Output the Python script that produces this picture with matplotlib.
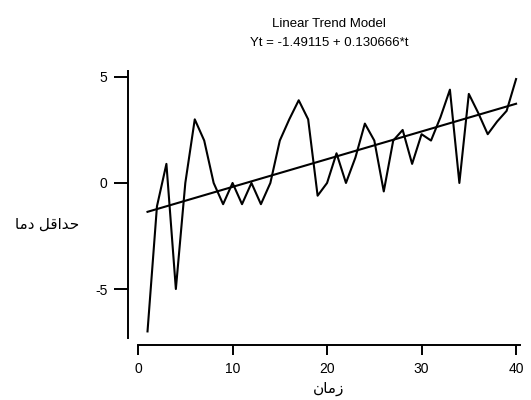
import numpy as np
import matplotlib
matplotlib.use('Agg')
import matplotlib.pyplot as plt

plt.rcParams['font.family'] = ['Liberation Sans', 'DejaVu Sans']
plt.rcParams['axes.unicode_minus'] = False

# observed minimum temperature values, t = 1..40
t = np.arange(1, 41)
temp = [-7, -1.1, 0.9, -5, 0, 3, 2, 0, -1, 0,
        -1, 0, -1, 0, 2, 3, 3.9, 3, -0.6, 0,
        1.4, 0, 1.2, 2.8, 2, -0.4, 2, 2.5, 0.9, 2.3,
        2, 3.1, 4.4, 0, 4.2, 3.3, 2.3, 2.9, 3.4, 4.9]
intercept = -1.49115
slope = 0.130666
trend = intercept + slope * t

title = 'Linear Trend Model\nYt = -1.49115 + 0.130666*t'
xlabel = '\ufee5\ufe8e\ufee3\ufeaf'                       # زمان (shaped, visual order)
ylabel = '\ufe8e\ufee3\ufea9 \ufede\ufed7\ufe8d\ufeaa\ufea3'  # حداقل دما

fig = plt.figure(figsize=(5.31, 4.0), dpi=100)
ax = fig.add_axes([0.26, 0.155, 0.719, 0.6675])

ax.plot(t, temp, color='black', lw=1.5)
ax.plot(t, trend, color='black', lw=1.5)

ax.set_xlim(0, 40.4)
ax.set_ylim(-7.31, 5.28)
ax.set_xticks([0, 10, 20, 30, 40])
ax.set_yticks([-5, 0, 5])

for s in ['top', 'right']:
    ax.spines[s].set_visible(False)
ax.spines['left'].set_position(('outward', 7))
ax.spines['bottom'].set_position(('outward', 5))
ax.spines['left'].set_linewidth(1.4)
ax.spines['bottom'].set_linewidth(1.4)

ax.tick_params(axis='x', length=7.2, width=1.4, pad=5, labelsize=10)
ax.tick_params(axis='y', length=10, width=1.4, pad=5, labelsize=10)

ax.set_title(title, fontsize=9.5, linespacing=1.75, pad=18)
ax.set_xlabel(xlabel, fontsize=11, labelpad=4)
ax.set_ylabel(ylabel, fontsize=11, rotation=0, ha='center', va='center')
ax.yaxis.set_label_coords(-0.238, 0.423)

fig.savefig('out.png', dpi=100)
